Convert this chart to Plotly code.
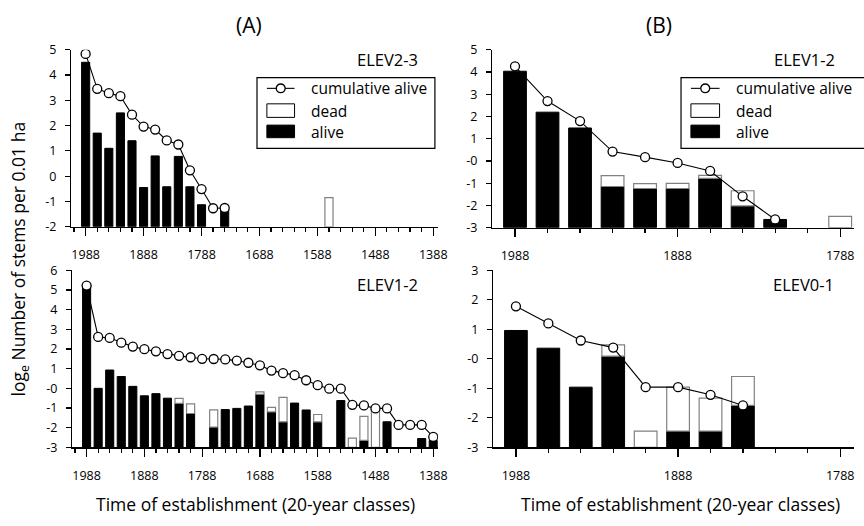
import plotly.graph_objects as go

W, H = 864, 526
FONT = "Open Sans"

# ---------------- data ----------------
# Panel A top (ELEV2-3)
yrs_a1 = [1988, 1968, 1948, 1928, 1908, 1888, 1868, 1848, 1828, 1808, 1788, 1768, 1748, 1568]
alive_a1 = [4.5, 1.7, 1.1, 2.5, 1.4, -0.45, 0.8, -0.42, 0.78, -0.42, -1.13, None, -1.3, None]
total_a1 = [None, None, None, None, None, None, None, None, None, None, None, None, None, -0.85]
cum_yrs_a1 = [1988, 1968, 1948, 1928, 1908, 1888, 1868, 1848, 1828, 1808, 1788, 1768, 1748]
cum_a1 = [4.83, 3.45, 3.28, 3.16, 2.43, 1.96, 1.84, 1.41, 1.25, 0.23, -0.51, -1.27, -1.26]

# Panel A bottom (ELEV1-2)
yrs_a2 = [1988, 1968, 1948, 1928, 1908, 1888, 1868, 1848, 1828, 1808, 1788, 1768, 1748, 1728,
          1708, 1688, 1668, 1648, 1628, 1608, 1588, 1568, 1548, 1528, 1508, 1488, 1468, 1448,
          1428, 1408, 1388]
alive_a2 = [5.25, 0.0, 0.93, 0.6, 0.1, -0.38, -0.27, -0.5, -0.76, -1.28, None, -1.97, -1.08, -1.02,
            -0.9, -0.3, -1.2, -1.7, -0.75, -1.1, -1.7, None, -0.62, None, -2.65, None, -1.7, None,
            None, -2.55, -2.65]
total_a2 = [None, None, None, None, None, None, None, None, -0.51, -0.79, None, -1.1, None, None,
            None, -0.18, -0.97, -0.46, None, None, -1.33, None, None, -2.53, -1.43, -1.1, None, None,
            None, None, None]
cum_a2 = [5.22, 2.61, 2.56, 2.32, 2.12, 1.99, 1.88, 1.74, 1.65, 1.58, 1.5, 1.49, 1.47, 1.41,
          1.3, 1.17, 0.9, 0.77, 0.67, 0.41, 0.16, -0.02, -0.02, -0.84, -0.87, -1.02, -1.02, -1.86,
          -1.86, -1.86, -2.47]

# Panel B top (ELEV1-2)
yrs_b1 = [1988, 1968, 1948, 1928, 1908, 1888, 1868, 1848, 1828, 1788]
alive_b1 = [4.03, 2.19, 1.48, -1.15, -1.24, -1.24, -0.78, -2.02, -2.63, None]
total_b1 = [None, None, None, -0.66, -1.02, -1.01, -0.65, -1.34, None, -2.49]
cum_yrs_b1 = [1988, 1968, 1948, 1928, 1908, 1888, 1868, 1848, 1828]
cum_b1 = [4.25, 2.69, 1.79, 0.42, 0.17, -0.09, -0.45, -1.59, -2.63]

# Panel B bottom (ELEV0-1)
yrs_b2 = [1988, 1968, 1948, 1928, 1908, 1888, 1868, 1848]
alive_b2 = [0.96, 0.36, -0.96, 0.09, None, -2.45, -2.45, -1.58]
total_b2 = [None, None, None, 0.47, -2.45, -0.96, -1.33, -0.6]
cum_b2 = [1.78, 1.2, 0.62, 0.38, -0.96, -0.96, -1.22, -1.58]

panel_labels = ["ELEV2-3", "ELEV1-2", "ELEV1-2", "ELEV0-1"]
legend_labels = ["cumulative alive", "dead", "alive"]


def px(x):
    return x / W


def py(y):
    return 1 - y / H


fig = go.Figure()

BAR_W = 14


def add_panel(n, yrs, alive, total, cyrs, cum, bottom):
    xa = "x" if n == 1 else f"x{n}"
    ya = "y" if n == 1 else f"y{n}"
    ax, ab, ah = [], [], []
    dx, db, dh = [], [], []
    for yr, a, t in zip(yrs, alive, total):
        if a is not None:
            ax.append(yr); ab.append(bottom); ah.append(a - bottom)
        if t is not None:
            base = a if a is not None else bottom
            dx.append(yr); db.append(base); dh.append(t - base)
    fig.add_trace(go.Bar(x=ax, y=ah, base=ab, width=BAR_W, xaxis=xa, yaxis=ya,
                         marker=dict(color="black", line=dict(color="black", width=1)),
                         showlegend=False))
    fig.add_trace(go.Bar(x=dx, y=dh, base=db, width=BAR_W, xaxis=xa, yaxis=ya,
                         marker=dict(color="white", line=dict(color="#808080", width=1.2)),
                         showlegend=False))
    fig.add_trace(go.Scatter(x=cyrs, y=cum, mode="lines+markers", xaxis=xa, yaxis=ya,
                             line=dict(color="black", width=1.1),
                             marker=dict(symbol="circle", size=9, color="white",
                                         line=dict(color="black", width=1.3)),
                             showlegend=False))


add_panel(1, yrs_a1, alive_a1, total_a1, cum_yrs_a1, cum_a1, -2)
add_panel(2, yrs_a2, alive_a2, total_a2, yrs_a2, cum_a2, -3)
add_panel(3, yrs_b1, alive_b1, total_b1, cum_yrs_b1, cum_b1, -3)
add_panel(4, yrs_b2, alive_b2, total_b2, yrs_b2, cum_b2, -3)

tickfont = dict(family=FONT, size=12.5, color="black")


def xaxis_cfg(x0, x1, rng):
    return dict(domain=[px(x0), min(px(x1), 1.0)], range=rng, showline=True, linecolor="black",
                linewidth=1.3, showgrid=False, zeroline=False, ticks="outside", ticklen=8,
                tickwidth=1.2, tickcolor="black", tickmode="linear", tick0=1988, dtick=100,
                tickfont=tickfont, ticklabelstandoff=8,
                minor=dict(ticks="outside", ticklen=4, tickwidth=1.2, tickcolor="black",
                           tick0=1988, dtick=20, showgrid=False))


def yaxis_cfg(ytop, ybot, lo, hi, zero_label):
    vals = list(range(lo, hi + 1))
    txt = [zero_label if v == 0 else str(v) for v in vals]
    return dict(domain=[py(ybot), py(ytop)], range=[lo, hi], showline=True, linecolor="black",
                linewidth=1.3, showgrid=False, zeroline=False, ticks="outside", ticklen=5,
                tickwidth=1.2, tickcolor="black", tickmode="array", tickvals=vals, ticktext=txt,
                tickfont=tickfont, ticklabelstandoff=6)


fig.update_layout(
    width=W, height=H, margin=dict(l=0, r=0, t=0, b=0),
    paper_bgcolor="white", plot_bgcolor="white", barmode="overlay",
    font=dict(family=FONT, color="black"),
    xaxis=dict(xaxis_cfg(72, 443, [2013, 1380]), anchor="y"),
    yaxis=dict(yaxis_cfg(42, 225, -2, 5, "0"), anchor="x"),
    xaxis2=dict(xaxis_cfg(73, 443, [2013, 1380]), anchor="y2"),
    yaxis2=dict(yaxis_cfg(270, 453, -3, 6, "-0"), anchor="x2"),
    xaxis3=dict(xaxis_cfg(498, 864, [2002, 1779.5]), anchor="y3"),
    yaxis3=dict(yaxis_cfg(42, 226, -3, 5, "-0"), anchor="x3"),
    xaxis4=dict(xaxis_cfg(499, 864, [2002, 1779.5]), anchor="y4"),
    yaxis4=dict(yaxis_cfg(270, 453, -3, 3, "-0"), anchor="x4"),
)

shapes = []
annots = []


def add_legend(bx0, bx1, sx0, sx1, tx):
    shapes.append(dict(type="rect", xref="paper", yref="paper", x0=px(bx0), x1=px(bx1),
                       y0=py(144), y1=py(71), line=dict(color="black", width=1.2),
                       fillcolor="white", layer="above"))
    shapes.append(dict(type="line", xref="paper", yref="paper", x0=px(sx0), x1=px(sx1),
                       y0=py(82), y1=py(82), line=dict(color="black", width=1.1), layer="above"))
    cx = (sx0 + sx1) / 2
    shapes.append(dict(type="circle", xref="paper", yref="paper", x0=px(cx - 4.5), x1=px(cx + 4.5),
                       y0=py(86.5), y1=py(77.5), line=dict(color="black", width=1.3),
                       fillcolor="white", layer="above"))
    shapes.append(dict(type="rect", xref="paper", yref="paper", x0=px(sx0), x1=px(sx1),
                       y0=py(112), y1=py(98), line=dict(color="black", width=1),
                       fillcolor="white", layer="above"))
    shapes.append(dict(type="rect", xref="paper", yref="paper", x0=px(sx0), x1=px(sx1),
                       y0=py(133), y1=py(120), line=dict(color="black", width=1),
                       fillcolor="black", layer="above"))
    for lab, yy in zip(legend_labels, [82, 105, 127]):
        annots.append(dict(text=lab, xref="paper", yref="paper", x=px(tx), y=py(yy),
                           xanchor="left", yanchor="middle", showarrow=False,
                           font=dict(family=FONT, size=15.5, color="black")))


add_legend(260, 440, 270, 298, 313)
add_legend(689, 880, 699, 728, 743)

for lab, (x, y) in zip(panel_labels, [(425, 52), (425, 285), (847, 52), (846, 285)]):
    annots.append(dict(text=lab, xref="paper", yref="paper", x=px(x), y=py(y), xanchor="right",
                       yanchor="middle", showarrow=False,
                       font=dict(family=FONT, size=16.5, color="black")))

annots.append(dict(text="(A)", xref="paper", yref="paper", x=px(252), y=py(17), xanchor="center",
                   yanchor="middle", showarrow=False, font=dict(family=FONT, size=21, color="black")))
annots.append(dict(text="(B)", xref="paper", yref="paper", x=px(667), y=py(17), xanchor="center",
                   yanchor="middle", showarrow=False, font=dict(family=FONT, size=21, color="black")))

xtitle = "Time of establishment (20-year classes)"
annots.append(dict(text=xtitle, xref="paper", yref="paper", x=px(258), y=py(512),
                   xanchor="center", yanchor="middle", showarrow=False,
                   font=dict(family=FONT, size=17.5, color="black")))
annots.append(dict(text=xtitle, xref="paper", yref="paper", x=px(688), y=py(512),
                   xanchor="center", yanchor="middle", showarrow=False,
                   font=dict(family=FONT, size=17.5, color="black")))
annots.append(dict(text="log<sub>e</sub> Number of stems per 0.01 ha", xref="paper", yref="paper",
                   x=px(20), y=py(258), xanchor="center", yanchor="middle", textangle=-90,
                   showarrow=False, font=dict(family=FONT, size=17.5, color="black")))

fig.update_layout(shapes=shapes, annotations=annots)
fig.write_html("out.html", config={"displayModeBar": False, "staticPlot": True},
               post_script="document.body.style.margin='0';document.body.style.padding='0';")
